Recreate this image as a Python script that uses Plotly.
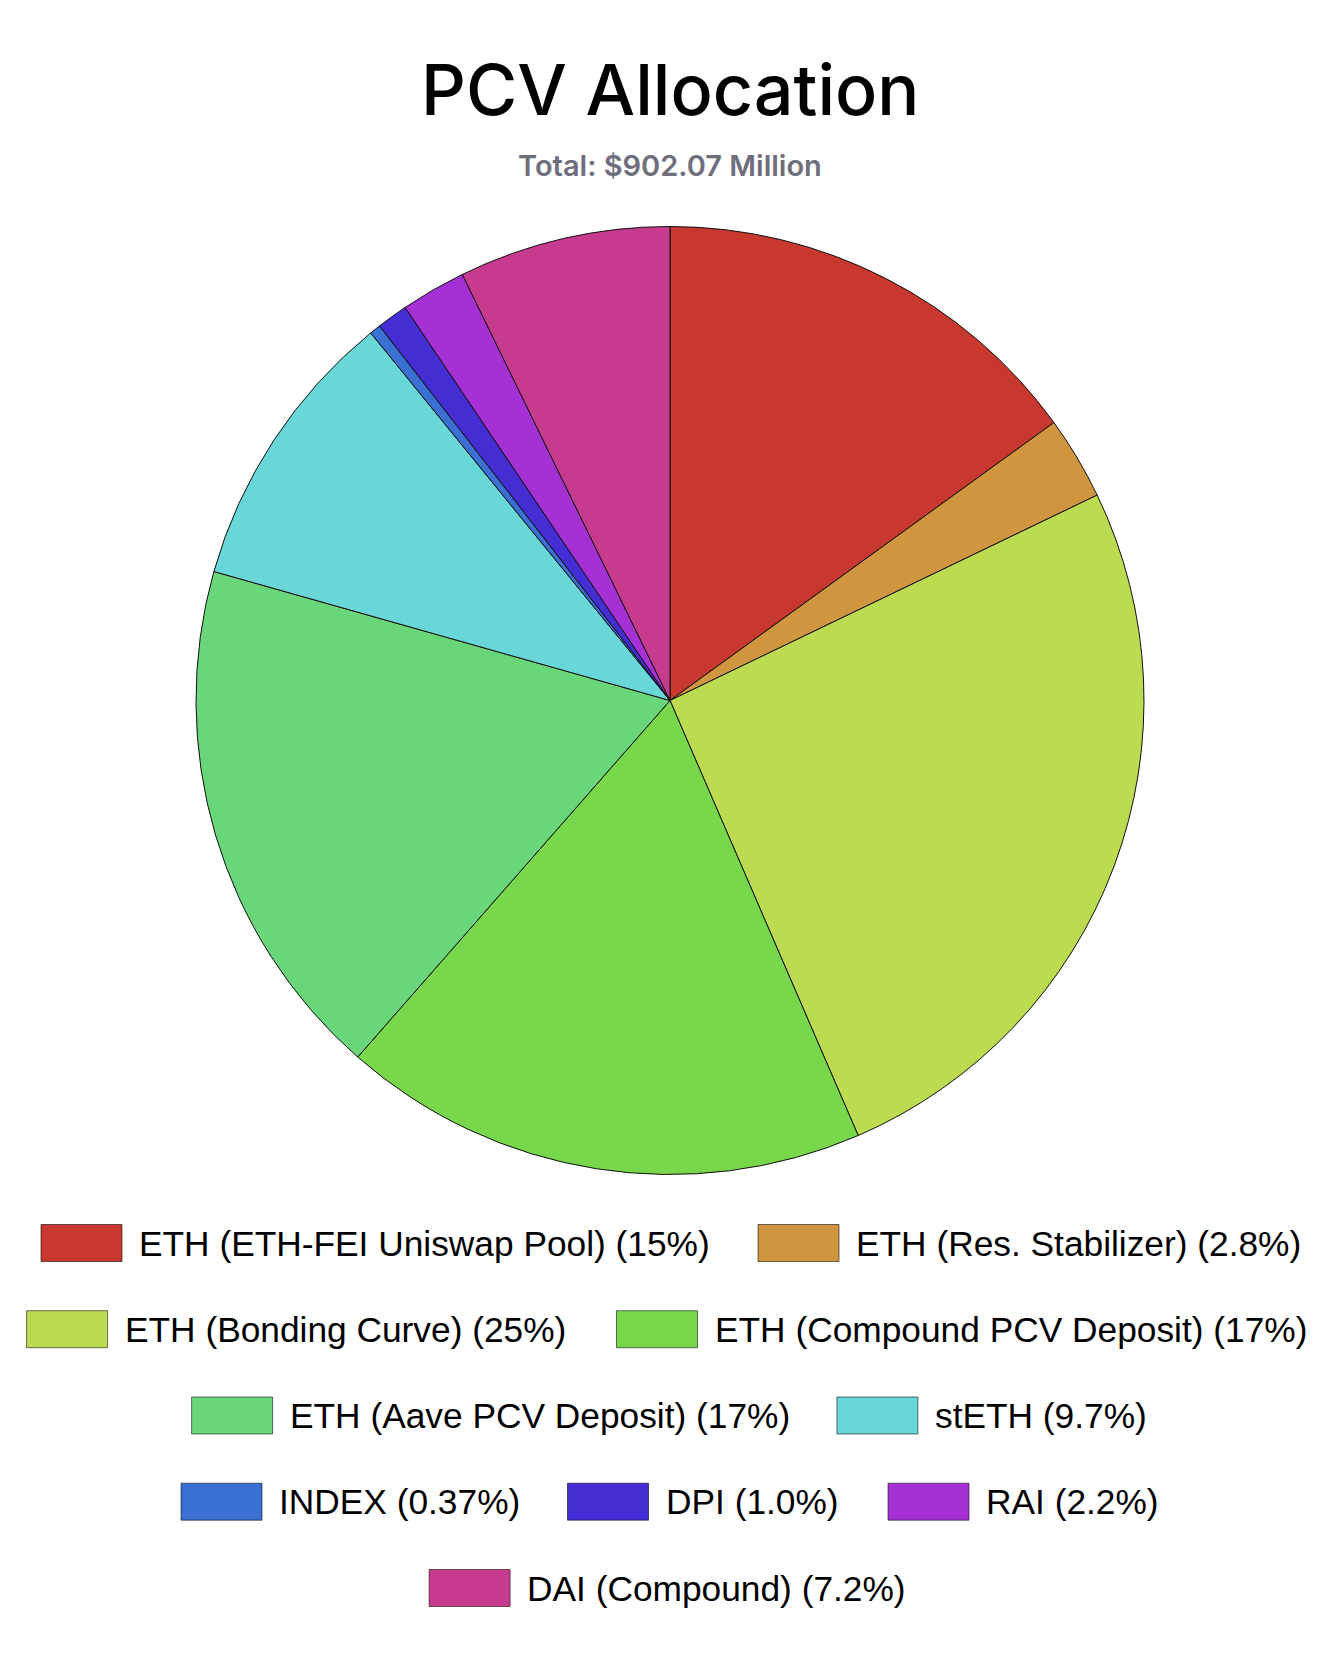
import plotly.graph_objects as go

# ---- data ----
labels = [
    "ETH (ETH-FEI Uniswap Pool)", "ETH (Res. Stabilizer)", "ETH (Bonding Curve)",
    "ETH (Compound PCV Deposit)", "ETH (Aave PCV Deposit)", "stETH",
    "INDEX", "DPI", "RAI", "DAI (Compound)",
]
shares = [15.03, 2.84, 25.64, 17.95, 17.94, 9.74, 0.378, 1.06, 2.22, 7.22]
pct_text = ["15%", "2.8%", "25%", "17%", "17%", "9.7%", "0.37%", "1.0%", "2.2%", "7.2%"]
colors = ["#C8382F", "#D0953F", "#BDDB50", "#78D74B", "#6AD67A",
          "#69D7D7", "#3A6FD3", "#442DD3", "#A531D5", "#C73B8E"]

title_text = "PCV Allocation"
subtitle_text = "Total: $902.07 Million"

# ---- layout constants (page pixels) ----
PAGE_OFF = 8                      # default body margin of the html page
W, H = 1334 - 2 * PAGE_OFF, 1670 - 2 * PAGE_OFF
CX, CY, R = 670, 700.5, 474

# legend rows: (row center y, [(item index, swatch left x), ...])
legend_rows = [
    (1243.0, [(0, 41.0), (1, 758.0)]),
    (1329.2, [(2, 26.6), (3, 616.5)]),
    (1415.5, [(4, 191.6), (5, 836.9)]),
    (1501.7, [(6, 181.0), (7, 567.5), (8, 888.0)]),
    (1588.0, [(9, 429.1)]),
]
SW_W, SW_H, TEXT_GAP = 81, 37, 96

def px(x):
    return (x - PAGE_OFF) / W

def py(y):
    return 1 - (y - PAGE_OFF) / H

fig = go.Figure(go.Pie(
    labels=labels,
    values=shares,
    sort=False,
    direction="clockwise",
    rotation=0,
    marker=dict(colors=colors, line=dict(color="#111111", width=1)),
    textinfo="none",
    hoverinfo="label+percent",
    showlegend=False,
    domain=dict(x=[px(CX - R), px(CX + R)], y=[py(CY + R), py(CY - R)]),
))

shapes = []
annotations = [
    dict(text=title_text, x=px(670), y=py(89), xref="paper", yref="paper",
         xanchor="center", yanchor="middle", showarrow=False,
         font=dict(family="Inter", size=70, color="#000000", weight=500)),
    dict(text=subtitle_text, x=px(670), y=py(166), xref="paper", yref="paper",
         xanchor="center", yanchor="middle", showarrow=False,
         font=dict(family="Inter", size=29, color="#6E6E7C", weight=600)),
]

for ry, items in legend_rows:
    for idx, sx in items:
        shapes.append(dict(
            type="rect", xref="paper", yref="paper",
            x0=px(sx), x1=px(sx + SW_W), y0=py(ry + SW_H / 2), y1=py(ry - SW_H / 2),
            fillcolor=colors[idx], line=dict(color="rgba(0,0,0,0.55)", width=1),
        ))
        annotations.append(dict(
            text=f"{labels[idx]} ({pct_text[idx]})",
            x=px(sx + TEXT_GAP), y=py(ry), xref="paper", yref="paper",
            xanchor="left", yanchor="middle", showarrow=False,
            font=dict(family="Liberation Sans, Arial", size=35.3, color="#000000"),
        ))

fig.update_layout(
    width=W, height=H,
    margin=dict(l=0, r=0, t=0, b=0),
    paper_bgcolor="#FFFFFF", plot_bgcolor="#FFFFFF",
    shapes=shapes, annotations=annotations,
)

fig.write_html("out.html")
